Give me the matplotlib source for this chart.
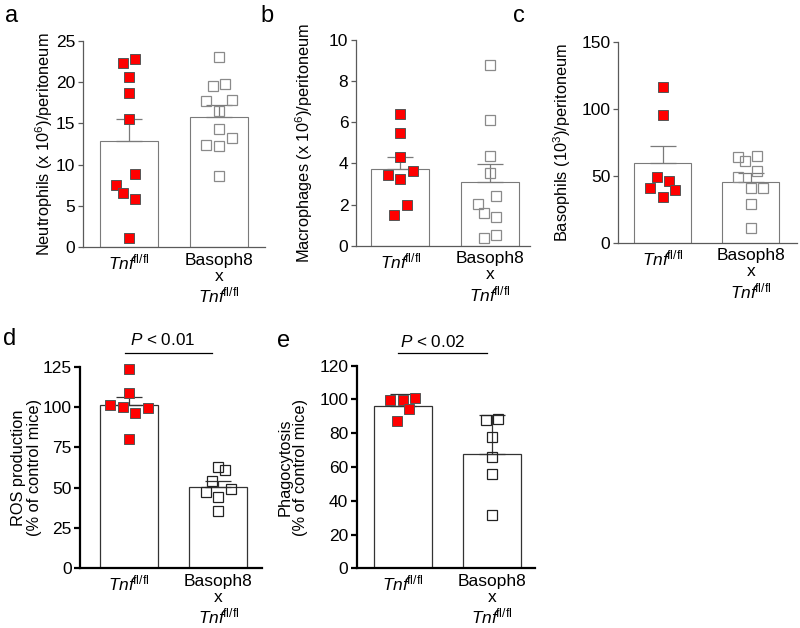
import matplotlib
matplotlib.use("Agg")
import matplotlib.pyplot as plt

plt.rcParams['font.family'] = ['Liberation Sans', 'DejaVu Sans']
plt.rcParams['mathtext.fontset'] = 'custom'
plt.rcParams['mathtext.rm'] = 'Liberation Sans'
plt.rcParams['mathtext.it'] = 'Liberation Sans:italic'
plt.rcParams['mathtext.bf'] = 'Liberation Sans:bold'

groups = [r'$\mathit{Tnf}^{\!\mathrm{fl/fl}}$',
          'Basoph8\nx\n' + r'$\mathit{Tnf}^{\!\mathrm{fl/fl}}$']

# values (points, bar mean, error up)
neut_ctrl = [22.3, 22.8, 20.6, 18.7, 15.5, 8.8, 7.5, 6.5, 5.8, 1.1]
neut_baso = [23.1, 19.5, 19.8, 17.7, 17.9, 16.5, 14.3, 12.4, 12.2, 13.2, 8.6]
neut_mean = [12.9, 15.8]
neut_err = [2.6, 1.4]

macro_ctrl = [6.4, 5.5, 4.33, 3.43, 3.63, 3.22, 2.0, 1.47]
macro_baso = [8.78, 6.11, 4.36, 3.55, 2.43, 2.03, 1.6, 1.38, 0.39, 0.52]
macro_mean = [3.71, 3.1]
macro_err = [0.62, 0.85]

baso_ctrl = [116, 95, 49, 46, 40.5, 39.3, 33.8]
baso_baso = [63.7, 61.2, 64.9, 49.3, 53.7, 40.5, 41, 28.6, 10.7]
baso_mean = [59.5, 45.5]
baso_err = [12.5, 6.2]

ros_ctrl = [123.3, 108.5, 101.2, 99.8, 99.6, 96.5, 80.2]
ros_baso = [62.6, 61.0, 54.1, 47.3, 49.4, 44.4, 35.7]
ros_mean = [101.2, 50.2]
ros_err = [5.2, 3.9]

phago_ctrl = [99.5, 99.5, 100.6, 94.3, 87.4]
phago_baso = [87.8, 88.6, 77.6, 65.7, 55.7, 31.6]
phago_mean = [96.3, 67.7]
phago_err = [6.9, 23.1]

# horizontal jitter slots of the dots
slots = {
    'a': ([-1, 1, 0, 0, 0, 1, -2, -1, 1, 0], [0, -1, 1, -2, 2, 0, 0, -2, 0, 2, 0]),
    'b': ([0, 0, 0, -2, 2, 0, 1, -1], [0, 0, 0, 0, 1, -2, -1, 1, -1, 1]),
    'c': ([0, 0, -1, 1, -2, 2, 0], [-2, -1, 1, -2, 1, 0, 2, 0, 0]),
    'd': ([0, 0, -3, -1, 3, 1, 0], [0, 1, -1, -2, 2, 0, 0]),
    'e': ([-2, 0, 2, 1, -1], [-1, 1, 0, 0, 0, 0]),
}

W, H = 800, 628
fig = plt.figure(figsize=(W / 100, H / 100), dpi=100)

STEP = 6.2 / 89.0
BAR_W = 0.65


def make_ax(left, top, right, bottom, c1, c2):
    ax = fig.add_axes([left / W, 1 - bottom / H, (right - left) / W, (bottom - top) / H])
    sp = c2 - c1
    ax.set_xlim(-(c1 - left) / sp, 1 + (right - c2) / sp)
    return ax


def panel(ax, ctrl, baso, mean, err, key, ymax, yticks, ylabel, labx, bold):
    axc = 'black' if bold else '#5a5a5a'
    lw = 1.6 if bold else 0.9
    barc = '#333333' if bold else '#7a7a7a'
    openc = '#222222' if bold else '#8a8a8a'
    ax.bar([0, 1], mean, width=BAR_W, color='white', edgecolor=barc,
           linewidth=0.9 if bold else 0.8, zorder=1)
    ax.errorbar([0, 1], mean, yerr=[[0, 0], err], fmt='none', ecolor=barc,
                elinewidth=0.9, capsize=9.5, capthick=0.9, zorder=2)
    s1, s2 = slots[key]
    ax.plot([x * STEP for x in s1], ctrl, 's', color='#ff0000', markeredgecolor='#555555',
            markeredgewidth=0.7, markersize=6.5, linestyle='none', zorder=3, clip_on=False)
    ax.plot([1 + x * STEP for x in s2], baso, 's', color='white', markerfacecolor='none',
            markeredgecolor=openc, markeredgewidth=0.9, markersize=7, linestyle='none',
            zorder=3, clip_on=False)
    ax.set_ylim(0, ymax)
    ax.set_yticks(yticks)
    ax.set_xticks([0, 1])
    ax.set_xticklabels(groups, fontsize=12.5, linespacing=1.1)
    ax.tick_params(axis='x', length=0, pad=4)
    ax.tick_params(axis='y', length=4 if bold else 3.5, width=lw, color=axc, labelsize=12.5, pad=2)
    for s in ['top', 'right']:
        ax.spines[s].set_visible(False)
    for s in ['left', 'bottom']:
        ax.spines[s].set_color(axc)
        ax.spines[s].set_linewidth(lw)
    ax.set_ylabel(ylabel, fontsize=11.8, linespacing=1.05)
    ax.yaxis.set_label_coords(labx, 0.5)


ax_a = make_ax(83, 41, 265, 247, 129, 219)
panel(ax_a, neut_ctrl, neut_baso, neut_mean, neut_err, 'a', 25, range(0, 26, 5),
      r'Neutrophils (x 10$^6$)/peritoneum', -0.154, False)

ax_b = make_ax(356, 40, 530, 245.7, 400.3, 490)
panel(ax_b, macro_ctrl, macro_baso, macro_mean, macro_err, 'b', 10, range(0, 11, 2),
      r'Macrophages (x 10$^6$)/peritoneum', -0.236, False)

ax_c = make_ax(618, 41.7, 797, 242.7, 662.7, 750.7)
panel(ax_c, baso_ctrl, baso_baso, baso_mean, baso_err, 'c', 150, [0, 50, 100, 150],
      r'Basophils (10$^3$)/peritoneum', -0.251, False)

ax_d = make_ax(80, 366.7, 262, 568.3, 129, 218.3)
panel(ax_d, ros_ctrl, ros_baso, ros_mean, ros_err, 'd', 125, range(0, 126, 25),
      'ROS production\n(% of control mice)', -0.209, True)

ax_e = make_ax(356.7, 365.7, 535, 568.3, 402.7, 491.7)
panel(ax_e, phago_ctrl, phago_baso, phago_mean, phago_err, 'e', 120, range(0, 121, 20),
      'Phagocytosis\n(% of control mice)', -0.274, True)

# significance bars
ax_d.plot([-0.045, 0.93], [133.7, 133.7], color='black', linewidth=0.9, clip_on=False)
ax_d.text(0.38, 141.5, r'$\mathit{P}$ < 0.01', ha='center', va='center', fontsize=12.3)
ax_e.plot([-0.053, 0.947], [127.5, 127.5], color='black', linewidth=0.9, clip_on=False)
ax_e.text(0.34, 134.2, r'$\mathit{P}$ < 0.02', ha='center', va='center', fontsize=12.3)

# panel letters
for letter, x, y in [('a', 5, 22), ('b', 260, 22), ('c', 513, 22), ('d', 3, 345), ('e', 277, 347)]:
    fig.text(x / W, 1 - y / H, letter, fontsize=17, va='baseline', ha='left')

fig.savefig('out.png', dpi=100)
